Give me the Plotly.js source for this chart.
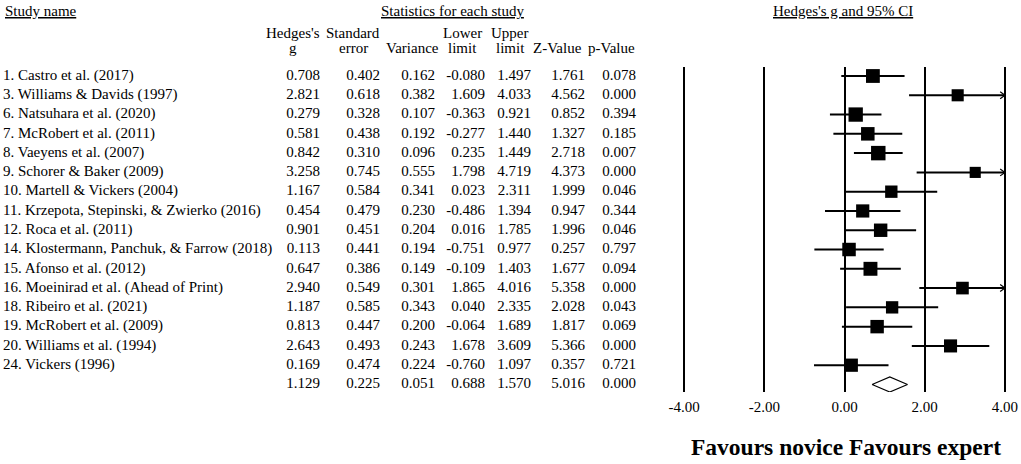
<!DOCTYPE html>
<html><head><meta charset="utf-8">
<script src="https://cdn.plot.ly/plotly-3.0.1.min.js"></script>
<style>html,body{margin:0;padding:0;background:#fff}#chart{width:1021px;height:464px}</style>
</head><body><div id="chart"></div>
<script>
// ---------- data ----------
const studyNames = [
  "1. Castro et al. (2017)",
  "3. Williams & Davids (1997)",
  "6. Natsuhara et al. (2020)",
  "7. McRobert et al. (2011)",
  "8. Vaeyens et al. (2007)",
  "9. Schorer & Baker (2009)",
  "10. Martell & Vickers (2004)",
  "11. Krzepota, Stepinski, & Zwierko (2016)",
  "12. Roca et al. (2011)",
  "14. Klostermann, Panchuk, & Farrow (2018)",
  "15. Afonso et al. (2012)",
  "16. Moeinirad et al. (Ahead of Print)",
  "18. Ribeiro et al. (2021)",
  "19. McRobert et al. (2009)",
  "20. Williams et al. (1994)",
  "24. Vickers (1996)"
];
const hedgesG  = [0.708, 2.821, 0.279, 0.581, 0.842, 3.258, 1.167, 0.454, 0.901, 0.113, 0.647, 2.940, 1.187, 0.813, 2.643, 0.169];
const stdError = [0.402, 0.618, 0.328, 0.438, 0.310, 0.745, 0.584, 0.479, 0.451, 0.441, 0.386, 0.549, 0.585, 0.447, 0.493, 0.474];
const variance = [0.162, 0.382, 0.107, 0.192, 0.096, 0.555, 0.341, 0.230, 0.204, 0.194, 0.149, 0.301, 0.343, 0.200, 0.243, 0.224];
const lowerLim = [-0.080, 1.609, -0.363, -0.277, 0.235, 1.798, 0.023, -0.486, 0.016, -0.751, -0.109, 1.865, 0.040, -0.064, 1.678, -0.760];
const upperLim = [1.497, 4.033, 0.921, 1.440, 1.449, 4.719, 2.311, 1.394, 1.785, 0.977, 1.403, 4.016, 2.335, 1.689, 3.609, 1.097];
const zValue   = [1.761, 4.562, 0.852, 1.327, 2.718, 4.373, 1.999, 0.947, 1.996, 0.257, 1.677, 5.358, 2.028, 1.817, 5.366, 0.357];
const pValue   = [0.078, 0.000, 0.394, 0.185, 0.007, 0.000, 0.046, 0.344, 0.046, 0.797, 0.094, 0.000, 0.043, 0.069, 0.000, 0.721];
// summary (random effects)
const summaryStats = [1.129, 0.225, 0.051, 0.688, 1.570, 5.016, 0.000]; // g, se, var, lower, upper, z, p
const tickValues = [-4, -2, 0, 2, 4];
const tickLabels = ["-4.00", "-2.00", "0.00", "2.00", "4.00"];
const colHeaderTop    = ["Hedges's", "Standard", "", "Lower", "Upper", "", ""];
const colHeaderBottom = ["g", "error", "Variance", "limit", "limit", "Z-Value", "p-Value"];

// ---------- layout constants ----------
const W = 1021, H = 464;
const FONT = "Liberation Serif, 'Times New Roman', Times, serif";
const FS = 15;
const colRight  = [320, 380, 435, 485, 531, 585, 636];
const colCenter = [293, 353, 412, 462, 510, 557, 611];
const tau2 = 0.57;          // between-study variance used for square weights
const sizeScale = 11.8;
const xMax = 4;
const py = p => 1 - p / H;  // pixel-from-top -> paper

const n = studyNames.length;
const rows = studyNames.map((_, i) => i);
const sumRow = n;

// CI lines
const ciX = [], ciY = [];
for (let i = 0; i < n; i++) {
  ciX.push(lowerLim[i], Math.min(upperLim[i], xMax), null);
  ciY.push(i, i, null);
}
// arrow chevrons for truncated CIs
const chevX = [], chevY = [];
const dx = 0.12, dy = 0.18;
for (let i = 0; i < n; i++) {
  if (upperLim[i] > xMax) {
    chevX.push(xMax - dx, xMax, xMax - dx, null);
    chevY.push(i - dy, i, i + dy, null);
  }
}
const sizes = variance.map(v => sizeScale * Math.sqrt(1 / (v + tau2)));

const sG = summaryStats[0], sLo = summaryStats[3], sHi = summaryStats[4];
const dh = 0.39;

const traces = [
  { type: 'scatter', mode: 'lines', x: ciX, y: ciY, xaxis: 'x', yaxis: 'y',
    line: { color: '#000', width: 2 }, hoverinfo: 'skip' },
  { type: 'scatter', mode: 'lines', x: chevX, y: chevY, xaxis: 'x', yaxis: 'y',
    line: { color: '#000', width: 1.2 }, hoverinfo: 'skip', cliponaxis: false },
  { type: 'scatter', mode: 'markers', x: hedgesG, y: rows, xaxis: 'x', yaxis: 'y',
    marker: { symbol: 'square', size: sizes, color: '#000', opacity: 1, line: { width: 0 } } },
  { type: 'scatter', mode: 'lines', x: [sLo, sG, sHi, sG, sLo], y: [sumRow, sumRow - dh, sumRow, sumRow + dh, sumRow],
    xaxis: 'x', yaxis: 'y', fill: 'toself', fillcolor: '#fff', line: { color: '#000', width: 1.2 } },
  // study names
  { type: 'scatter', mode: 'text', x: rows.map(() => 3), y: rows, text: studyNames,
    xaxis: 'x2', yaxis: 'y', textposition: 'middle right', cliponaxis: false,
    textfont: { family: FONT, size: FS, color: '#000' } }
];
const cols = [hedgesG, stdError, variance, lowerLim, upperLim, zValue, pValue];
cols.forEach((arr, c) => {
  const vals = arr.concat([summaryStats[c]]);
  traces.push({ type: 'scatter', mode: 'text', x: vals.map(() => colRight[c]),
    y: vals.map((_, i) => i), text: vals.map(v => v.toFixed(3)),
    xaxis: 'x2', yaxis: 'y', textposition: 'middle left', cliponaxis: false,
    textfont: { family: FONT, size: FS, color: '#000' } });
});

const ann = [];
const A = (text, x, yp, xanchor, extra) => Object.assign({ text, x, y: py(yp), xref: 'x2', yref: 'paper',
  xanchor, yanchor: 'middle', showarrow: false, font: { family: FONT, size: FS, color: '#000' } }, extra || {});
ann.push(A('<u>Study name</u>', 3, 11, 'left'));
ann.push(A('<u>Statistics for each study</u>', 452, 11, 'center'));
ann.push(A('<u>Hedges\'s g and 95% CI</u>', 843, 11, 'center'));
colHeaderTop.forEach((t, c) => { if (t) ann.push(A(t, colCenter[c], 33, 'center')); });
colHeaderBottom.forEach((t, c) => { if (t) ann.push(A(t, colCenter[c], 48, 'center')); });
ann.push(A('<b>Favours novice Favours expert</b>', 846, 447, 'center', { font: { family: FONT, size: 23.5, color: '#000' } }));

const yTop = 67, yBot = 392, row0 = 76, rowStep = 19.28;
const layout = {
  width: W, height: H, margin: { l: 0, r: 0, t: 0, b: 0 },
  paper_bgcolor: '#fff', plot_bgcolor: 'rgba(0,0,0,0)', showlegend: false, hovermode: false,
  xaxis: { domain: [680 / W, 1009 / W], range: [-4.1, 4.1], tickvals: tickValues, ticktext: tickLabels,
    showgrid: true, gridcolor: '#000', gridwidth: 2, zeroline: false, showline: false, ticks: '',
    ticklabelstandoff: 4, tickfont: { family: FONT, size: FS, color: '#000' }, anchor: 'y', fixedrange: true },
  xaxis2: { domain: [0, 1], range: [0, W], visible: false, anchor: 'y', fixedrange: true },
  yaxis: { domain: [py(yBot), py(yTop)],
    range: [(yBot - row0) / rowStep, (yTop - row0) / rowStep],
    visible: false, showgrid: false, zeroline: false, fixedrange: true },
  annotations: ann
};
Plotly.newPlot('chart', traces, layout, { staticPlot: true, displayModeBar: false });
</script></body></html>
